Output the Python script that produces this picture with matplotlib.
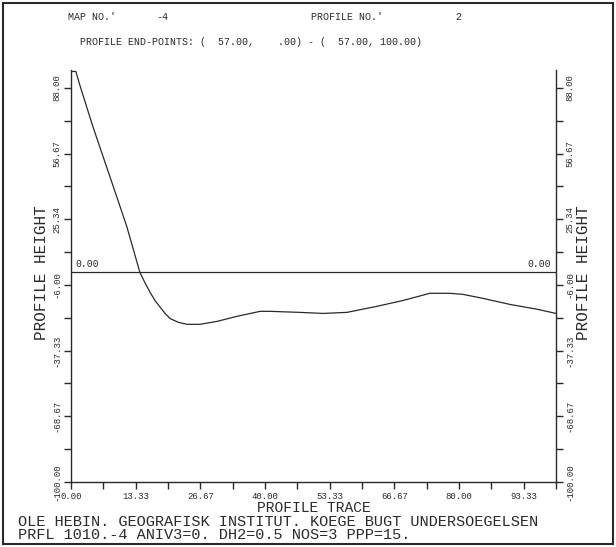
import numpy as np
import matplotlib
matplotlib.use('Agg')
import matplotlib.pyplot as plt
from matplotlib.patches import Rectangle

# profile trace
trace = [0.0, 1.0, 1.9, 4.5, 8.0, 11.5, 14.2, 15.3, 16.3, 17.3, 18.4, 19.4, 20.4,
         22.1, 23.9, 26.6, 30.1, 34.2, 39.0, 41.0, 47.2, 52.0, 56.9, 63.1, 68.5,
         74.0, 78.1, 80.8, 84.9, 90.5, 96.1, 100.0]
height = [95.8, 95.8, 88.7, 69.6, 45.8, 21.9, 0.0, -5.2, -9.5, -13.4, -16.7, -19.6,
          -22.0, -23.8, -24.8, -24.8, -23.4, -21.0, -18.6, -18.6, -19.1, -19.6,
          -19.1, -16.2, -13.4, -10.0, -10.0, -10.5, -12.4, -15.3, -17.6, -19.6]

x_ticks = [0.0, 13.333, 26.667, 40.0, 53.333, 66.667, 80.0, 93.333]
x_labels = ['0.00', '13.33', '26.67', '40.00', '53.33', '66.67', '80.00', '93.33']
y_ticks = [-100.0, -68.666, -37.332, -5.998, 25.336, 56.67, 88.004]
y_labels = ['-100.00', '-68.67', '-37.33', '-6.00', '25.34', '56.67', '88.00']

header1 = ["MAP NO.'", "-4", "PROFILE NO.'", "2"]
header2 = "PROFILE END-POINTS: (  57.00,    .00) - (  57.00, 100.00)"
footer1 = "OLE HEBIN. GEOGRAFISK INSTITUT. KOEGE BUGT UNDERSOEGELSEN"
footer2 = "PRFL 1010.-4 ANIV3=0. DH2=0.5 NOS=3 PPP=15."

ink = '#2a2a2a'
W, H = 616, 547
plt.rcParams['font.family'] = ['Liberation Mono', 'DejaVu Sans Mono']

fig = plt.figure(figsize=(W / 100, H / 100), dpi=100)
ax = fig.add_axes([71 / W, 1 - 482 / H, (556 - 71) / W, (482 - 70) / H])

ax.plot(trace, height, c=ink, lw=0.9)
ax.axhline(0, c=ink, lw=0.9)
ax.text(1.0, 1.5, '0.00', fontsize=7, color=ink, ha='left', va='bottom')
ax.text(99.0, 1.5, '0.00', fontsize=7, color=ink, ha='right', va='bottom')

ax.set_xlim(0, 100)
ax.set_ylim(-100, 96.5)
ax.spines['top'].set_visible(False)
for s in ['left', 'right', 'bottom']:
    ax.spines[s].set_color(ink)
    ax.spines[s].set_linewidth(1.0)

ax.set_xticks(x_ticks)
ax.set_xticklabels(x_labels, fontsize=6.5, color=ink)
ax.set_xticks(np.array(x_ticks) + 6.667, minor=True)
ax.set_yticks(y_ticks)
ax.set_yticklabels(y_labels, fontsize=6.5, color=ink, rotation=90, va='center')
ax.set_yticks(np.array(y_ticks[:-1]) + 15.667, minor=True)
ax.tick_params(axis='both', which='both', direction='out', length=5, width=1.0,
               color=ink, right=True, labelright=True, pad=2)
ax.tick_params(axis='x', pad=2)
for lab in ax.get_yticklabels(which='both'):
    lab.set_rotation(90)

# texts in pixel positions of the page
def ftext(x, y, s, **kw):
    fig.text(x / W, 1 - y / H, s, color=ink, **kw)

ftext(68, 17, header1[0], fontsize=7.2, va='center')
ftext(156, 17, header1[1], fontsize=7.2, va='center')
ftext(311, 17, header1[2], fontsize=7.2, va='center')
ftext(455, 17, header1[3], fontsize=7.2, va='center')
ftext(80, 42, header2, fontsize=7.2, va='center')

ftext(42, 273, 'PROFILE HEIGHT', fontsize=11.5, rotation=90, ha='center', va='center')
ftext(583, 273, 'PROFILE HEIGHT', fontsize=11.5, rotation=90, ha='center', va='center')
ftext(314, 508, 'PROFILE TRACE', fontsize=10.5, ha='center', va='center')
ftext(18, 528.5, footer1 + '\n' + footer2, fontsize=11, va='center', linespacing=0.95)

fig.patches.append(Rectangle((3 / W, 3 / H), 1 - 6 / W, 1 - 6 / H, transform=fig.transFigure,
                             fill=False, ec=ink, lw=1.5))

fig.savefig('out.png', dpi=100)
